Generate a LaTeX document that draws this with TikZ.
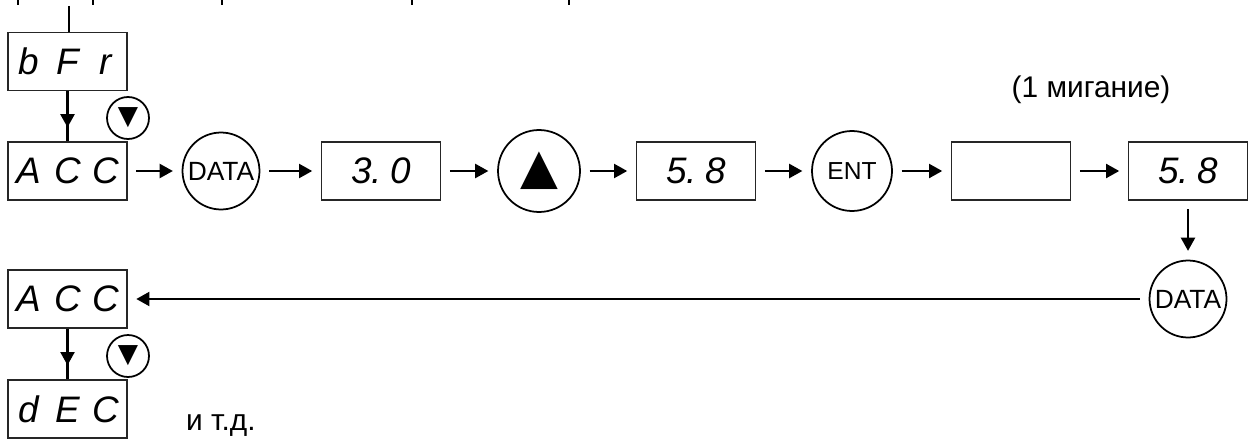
\documentclass[tikz,border=0pt]{standalone}
\usepackage{fontspec}
\setmainfont{Liberation Sans}
\newfontfamily\symfont{DejaVu Sans}
\usetikzlibrary{arrows.meta,calc,decorations.markings}
\newcommand{\lcd}[1]{\makebox[22pt]{#1}}
\begin{document}
\begin{tikzpicture}[x=0.02cm,y=-0.02cm,
  lcdbox/.style={draw=black!85,line width=0.6pt,minimum width=2.38cm,minimum height=1.16cm,inner sep=0pt,font=\fontsize{21pt}{21pt}\selectfont\itshape},
  key/.style={draw,circle,line width=1pt,minimum size=1.54cm,inner sep=0pt,font=\fontsize{15pt}{15pt}\selectfont},
  bigkey/.style={key,minimum size=1.64cm,font=\symfont\fontsize{28pt}{28pt}\selectfont},
  downkey/.style={draw,circle,line width=1pt,minimum size=0.84cm,inner sep=0pt,font=\symfont\fontsize{15pt}{15pt}\selectfont},
  arr/.style={-{Triangle[length=7.5pt,width=8pt]},line width=1.2pt,shorten <=5pt,shorten >=5pt},
  midarr/.style={line width=1.2pt,postaction={decorate},decoration={markings,mark=at position 0.72 with {\arrow{Triangle[length=7.5pt,width=8pt]}}}},
  note/.style={font=\fontsize{17pt}{17pt}\selectfont}]
\useasboundingbox (0,0) rectangle (1250,439);
% stubs of the lines above
\foreach \x in {18,93,222,412,569} \draw[line width=1.5pt] (\x,0) -- ++(0,5);
% upper row
\node[lcdbox] (bfr) at (67.5,61.5) {\lcd{b}\lcd{F}\lcd{r}};
\node[lcdbox] (acc) at (67.5,171) {\lcd{A}\lcd{C}\lcd{C}};
\node[downkey] (dn) at (128,118) {▼};
\node[key] (data) at (221,171) {DATA};
\node[lcdbox] (old) at (381,171) {\lcd{3\rlap{.}}\lcd{0}};
\node[bigkey] (up) at (539,171) {▲};
\node[lcdbox] (new) at (696,171) {\lcd{5\rlap{.}}\lcd{8}};
\node[key,minimum size=1.6cm,font=\fontsize{14pt}{14pt}\selectfont] (ent) at (852,171) {ENT};
\node[lcdbox] (blank) at (1011,171) {};
\node[lcdbox] (res) at (1188,171) {\lcd{5\rlap{.}}\lcd{8}};
\node[note,anchor=base] (blink) at (1091,97) {(1 мигание)};
% lower row
\node[key] (data2) at (1188,299) {DATA};
\node[lcdbox] (acc2) at (67.5,299) {\lcd{A}\lcd{C}\lcd{C}};
\node[downkey] (dn2) at (128,356) {▼};
\node[lcdbox] (dec) at (67.5,409) {\lcd{d}\lcd{E}\lcd{C}};
\node[note,anchor=base west] (etc) at (180,430) {и т.д.};
% connectors
\coordinate (in) at (69,6);
\draw[line width=1.2pt] (in) -- (in |- bfr.north);
\draw[midarr] (bfr) -- (acc);
\draw[arr] (acc) -- (data);
\draw[arr] (data) -- (old);
\draw[arr] (old) -- (up);
\draw[arr] (up) -- (new);
\draw[arr] (new) -- (ent);
\draw[arr] (ent) -- (blank);
\draw[arr] (blank) -- (res);
\draw[arr] (res) -- (data2);
\draw[arr] (data2) -- (acc2);
\draw[midarr] (acc2) -- (dec);
\end{tikzpicture}
\end{document}
